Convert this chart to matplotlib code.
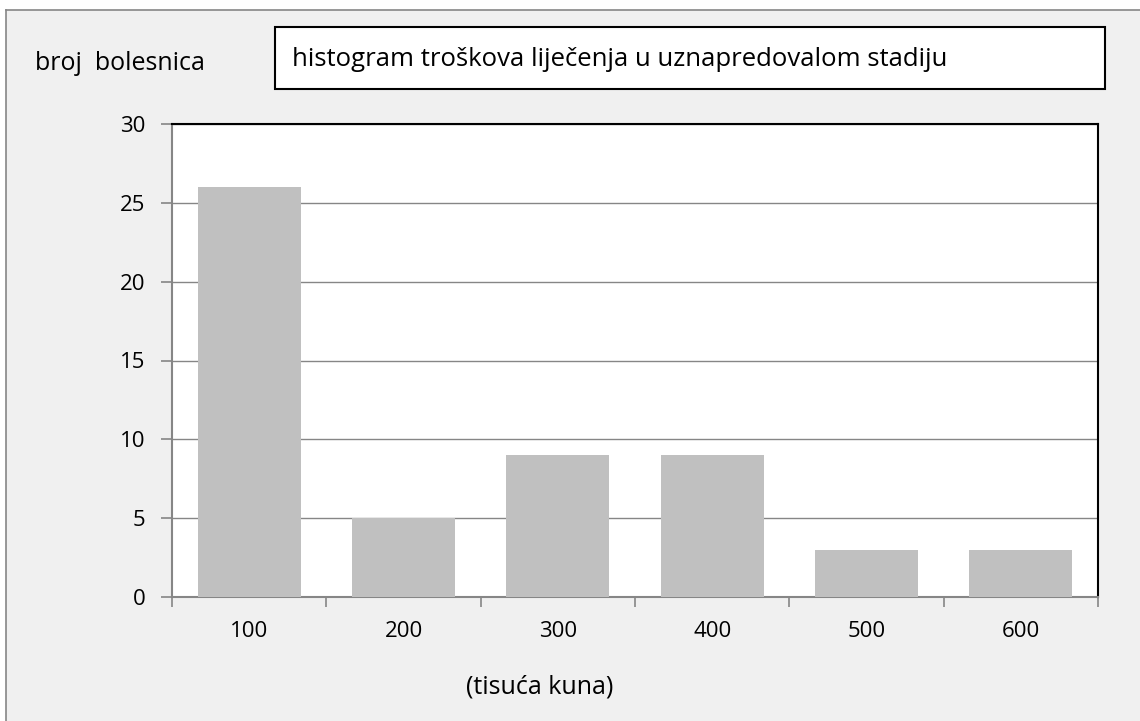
import matplotlib.pyplot as plt
from matplotlib.patches import Rectangle
from matplotlib.lines import Line2D
import numpy as np

# histogram troškova liječenja
categories = ['100', '200', '300', '400', '500', '600']
counts = [26, 5, 9, 9, 3, 3]
y_ticks = [0, 5, 10, 15, 20, 25, 30]

plt.rcParams['font.family'] = ['Open Sans', 'DejaVu Sans']
grey_line = '#868686'

fig = plt.figure(figsize=(11.4, 7.21), dpi=100)
fig.patch.set_facecolor('white')

# grey panel with border on top/left only (cropped screenshot)
fig.patches.append(Rectangle((6 / 1140, 0), 1, 1 - 10 / 721, transform=fig.transFigure,
                             facecolor='#f0f0f0', edgecolor='none', zorder=-10))
fig.add_artist(Line2D([6 / 1140, 1], [1 - 10 / 721] * 2, color=grey_line, lw=1.2))
fig.add_artist(Line2D([6 / 1140] * 2, [0, 1 - 10 / 721], color=grey_line, lw=1.2))

ax = fig.add_axes([172 / 1140, 1 - 597 / 721, (1098 - 172) / 1140, (597 - 124) / 721])
ax.set_facecolor('white')

x = np.arange(len(categories))
ax.bar(x, counts, width=0.667, color='#c0c0c0', zorder=3)

ax.set_xlim(-0.5, len(categories) - 0.5)
ax.set_ylim(0, 30)
ax.set_yticks(y_ticks)
ax.yaxis.grid(True, color=grey_line, lw=1.0, zorder=0)

ax.set_xticks(x)
ax.set_xticklabels(categories, fontsize=16)
ax.set_xticks(np.arange(-0.5, len(categories)), minor=True)
ax.tick_params(axis='x', which='major', length=0, pad=17)
ax.tick_params(axis='x', which='minor', length=7, width=1.2, color=grey_line, direction='out')
ax.tick_params(axis='y', length=8, width=1.2, color=grey_line, labelsize=16, pad=11)

ax.spines['left'].set_color(grey_line)
ax.spines['bottom'].set_color(grey_line)
ax.spines['left'].set_linewidth(1.5)
ax.spines['bottom'].set_linewidth(1.5)
ax.spines['top'].set_color('black')
ax.spines['right'].set_color('black')
ax.spines['top'].set_linewidth(1.5)
ax.spines['right'].set_linewidth(1.5)

# title box
fig.patches.append(Rectangle((275 / 1140, 1 - 89 / 721), (1105 - 275) / 1140, (89 - 27) / 721,
                             transform=fig.transFigure, facecolor='white',
                             edgecolor='black', lw=1.5))
fig.text(292 / 1140, 1 - 60 / 721, 'histogram troškova liječenja u uznapredovalom stadiju',
         fontsize=18.5, ha='left', va='center')

fig.text(35 / 1140, 1 - 63 / 721, 'broj  bolesnica', fontsize=18, ha='left', va='center')
fig.text(540 / 1140, 1 - 687 / 721, '(tisuća kuna)', fontsize=18, ha='center', va='center')

fig.savefig('out.png', dpi=100, facecolor=fig.get_facecolor())
